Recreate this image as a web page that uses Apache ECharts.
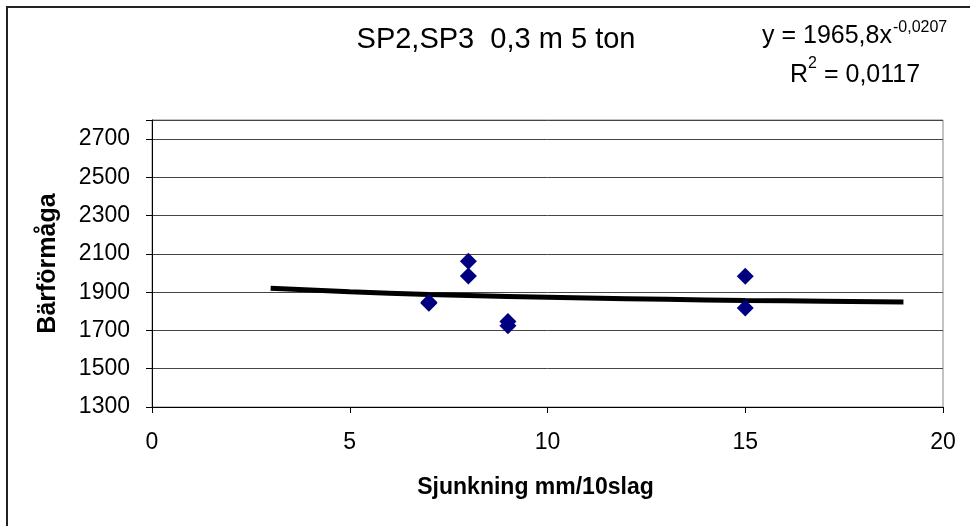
<!DOCTYPE html>
<html>
<head>
<meta charset="utf-8">
<script src="https://cdn.jsdelivr.net/npm/echarts@6/dist/echarts.min.js"></script>
<style>
html,body{margin:0;padding:0;background:#fff;}
#chart{width:970px;height:526px;}
</style>
</head>
<body>
<div id="chart"></div>
<script>
// Data
const pointX = [7, 7, 8, 8, 9, 9, 15, 15];
const pointY = [1847, 1842, 2062, 1985, 1747, 1725, 1983, 1817];
const trendX = [3, 5, 7, 9, 11, 13, 15, 17, 19];
const trendY = [1921, 1902, 1888, 1878, 1870, 1863, 1857, 1853, 1849];
const xTicks = [0, 5, 10, 15, 20];
const yTicks = [1300, 1500, 1700, 1900, 2100, 2300, 2500, 2700];
const titleText = 'SP2,SP3  0,3 m 5 ton';
const xName = 'Sjunkning mm/10slag';
const yName = 'Bärförmåga';
const eqMain = 'y = 1965,8x';
const eqExp = '-0,0207';
const r2Base = 'R';
const r2Exp = '2';
const r2Main = ' = 0,0117';

const FONT = 'Liberation Sans, Arial, sans-serif';
const chart = echarts.init(document.getElementById('chart'), null, {renderer: 'canvas'});

const scatterData = pointX.map((x, i) => [x, pointY[i]]);
const trendData = trendX.map((x, i) => [x, trendY[i]]);

function txt(x, y, s, size, align) {
  return {type: 'text', x: x, y: y, silent: true,
    style: {text: s, font: size + 'px ' + FONT, fill: '#000', align: align || 'left', verticalAlign: 'middle'}};
}

chart.setOption({
  animation: false,
  backgroundColor: '#fff',
  textStyle: {fontFamily: FONT},
  grid: {left: 152, right: 27, top: 120, bottom: 119, show: true, borderColor: '#888', borderWidth: 1, backgroundColor: 'transparent'},
  xAxis: {
    type: 'value', min: xTicks[0], max: xTicks[xTicks.length - 1], interval: 5,
    name: xName, nameLocation: 'middle', nameGap: 69,
    nameTextStyle: {fontFamily: FONT, fontSize: 23, fontWeight: 'bold', color: '#000', padding: [0, 24, 0, 0]},
    axisLine: {show: true, lineStyle: {color: '#000', width: 1}},
    axisTick: {show: true, length: 6, lineStyle: {color: '#000'}},
    axisLabel: {fontFamily: FONT, fontSize: 23, color: '#000', margin: 24},
    splitLine: {show: false}
  },
  yAxis: {
    type: 'value', min: yTicks[0], max: 2800, interval: 200,
    name: yName, nameLocation: 'middle', nameGap: 91, nameRotate: 90,
    nameTextStyle: {fontFamily: FONT, fontSize: 25, fontWeight: 'bold', color: '#000'},
    axisLine: {show: true, lineStyle: {color: '#000', width: 1}},
    axisTick: {show: true, length: 6, lineStyle: {color: '#000'}},
    axisLabel: {fontFamily: FONT, fontSize: 23, color: '#000', margin: 22,
      formatter: v => (yTicks.indexOf(v) >= 0 ? String(v) : '')},
    splitLine: {show: true, lineStyle: {color: '#444', width: 1}}
  },
  series: [
    {
      type: 'line', data: trendData, smooth: true, symbol: 'none',
      lineStyle: {color: '#000', width: 5}, z: 2
    },
    {
      type: 'scatter', data: scatterData, symbol: 'diamond', symbolSize: 17,
      itemStyle: {color: '#000080', opacity: 1}, z: 3
    }
  ],
  graphic: [
    {type: 'rect', shape: {x: 7, y: 7, width: 1100, height: 700}, style: {fill: 'none', stroke: '#222', lineWidth: 2}, silent: true},
    txt(496, 40, titleText, 29, 'center'),
    txt(762, 36, eqMain, 25),
    txt(893, 28, eqExp, 16),
    txt(790, 75, r2Base, 25),
    txt(808, 64, r2Exp, 16),
    txt(817, 75, r2Main, 25)
  ]
});
</script>
</body>
</html>
